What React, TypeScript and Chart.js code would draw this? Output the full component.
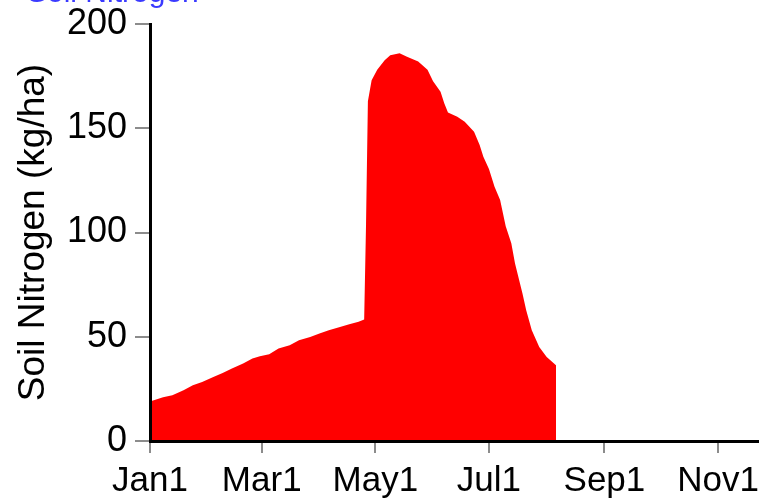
import React, { useEffect, useRef } from "react";
import { Chart, registerables } from "chart.js";

Chart.register(...registerables);

// Day of year (0 = Jan 1) and soil nitrogen (kg/ha)
const days = [
  0, 7, 12, 18, 23, 28, 34, 39, 44, 50, 55, 59, 64, 69, 75, 80, 86, 91, 96, 102,
  107, 112, 115, 116, 117, 118, 119, 122, 126, 129, 134, 138, 144, 149, 152, 156,
  158, 160, 165, 169, 174, 177, 179, 182, 185, 188, 191, 194, 196, 200, 202, 205,
  209, 213, 218,
];
const nitrogen = [
  19, 21, 22, 24.3, 26.7, 28.3, 30.7, 32.6, 34.8, 37.2, 39.6, 40.7, 41.6, 44.4,
  45.9, 48.3, 49.9, 51.6, 53.1, 54.7, 56, 57.2, 58.3, 104, 163, 168, 173, 178,
  182.6, 185, 186, 184.3, 182, 178, 172.5, 167.5, 162, 157.5, 155.5, 153.1, 148.3,
  142, 136.3, 130.5, 122, 115.6, 103, 94.8, 85.1, 70.8, 62.7, 53.1, 45.1, 40.3, 36.3,
];

const tickDays = [0, 60, 121, 182, 244, 305];
const tickLabels = ["Jan1", "Mar1", "May1", "Jul1", "Sep1", "Nov1"];
const yTicks = [0, 50, 100, 150, 200];

const FONT = "'Liberation Sans', Arial, sans-serif";

export default function App() {
  const ref = useRef<HTMLCanvasElement | null>(null);

  useEffect(() => {
    document.body.style.margin = "0";
    const canvas = ref.current;
    if (!canvas) return;

    const titlePlugin = {
      id: "topTitle",
      afterDraw(chart: any) {
        const ctx = chart.ctx;
        ctx.save();
        ctx.font = `30px ${FONT}`;
        ctx.fillStyle = "#3a3aff";
        ctx.textBaseline = "alphabetic";
        ctx.textAlign = "left";
        ctx.fillText("Soil Nitrogen", 27, 2);
        ctx.restore();
      },
    };

    const chart = new Chart(canvas, {
      type: "line",
      data: {
        datasets: [
          {
            label: "Soil Nitrogen",
            data: days.map((d, i) => ({ x: d, y: nitrogen[i] })),
            fill: "origin",
            backgroundColor: "#ff0000",
            borderWidth: 0,
            pointRadius: 0,
            tension: 0,
          },
        ],
      },
      options: {
        animation: false,
        responsive: false,
        layout: { padding: { top: 24, left: 0, right: 0, bottom: 0 } },
        plugins: {
          legend: { display: false },
          tooltip: { enabled: false },
        },
        scales: {
          x: {
            type: "linear",
            min: 0,
            max: 327,
            afterFit: (scale: any) => {
              scale.height = 59;
              scale.paddingLeft = 0;
              scale.paddingRight = 0;
            },
            afterBuildTicks: (scale: any) => {
              scale.ticks = tickDays.map((v) => ({ value: v }));
            },
            ticks: {
              autoSkip: false,
              maxRotation: 0,
              padding: 7,
              color: "#000",
              font: { family: FONT, size: 35 },
              callback: (v: any) => {
                const i = tickDays.indexOf(Number(v));
                return i >= 0 ? tickLabels[i] : "";
              },
            },
            grid: {
              drawOnChartArea: false,
              drawTicks: true,
              tickLength: 12,
              color: "#8c8c8c",
              lineWidth: 2,
            },
            border: { display: true, color: "#000", width: 3, z: 1 },
          },
          y: {
            min: 0,
            max: 200,
            afterFit: (scale: any) => {
              scale.width = 150;
              scale.paddingTop = 0;
              scale.paddingBottom = 0;
            },
            afterBuildTicks: (scale: any) => {
              scale.ticks = yTicks.map((v) => ({ value: v }));
            },
            ticks: {
              padding: 8,
              color: "#000",
              font: { family: FONT, size: 36 },
            },
            grid: {
              drawOnChartArea: false,
              drawTicks: true,
              tickLength: 15,
              color: "#8c8c8c",
              lineWidth: 2,
            },
            border: { display: true, color: "#000", width: 3, z: 1 },
            title: {
              display: true,
              text: "Soil Nitrogen (kg/ha)",
              color: "#000",
              font: { family: FONT, size: 37, lineHeight: 1 },
              padding: { top: 15, bottom: 0 },
            },
          },
        },
      },
      plugins: [titlePlugin],
    });

    return () => chart.destroy();
  }, []);

  return (
    <div style={{ width: 759, height: 500, overflow: "hidden" }}>
      <canvas ref={ref} width={759} height={500} style={{ display: "block" }} />
    </div>
  );
}
